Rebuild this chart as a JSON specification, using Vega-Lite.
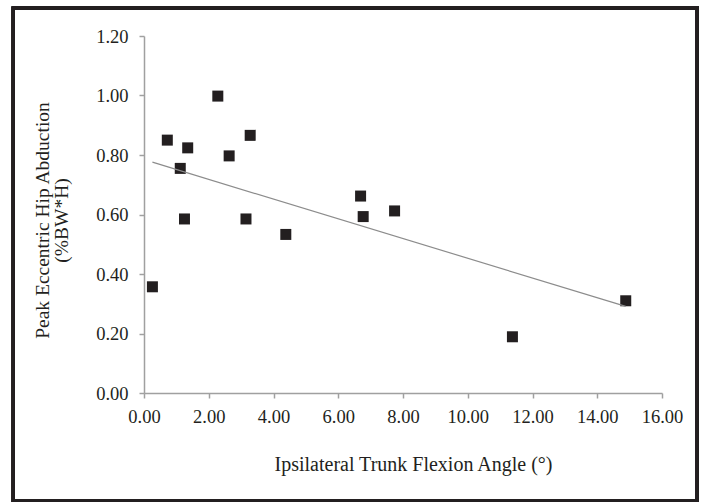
{
  "$schema": "https://vega.github.io/schema/vega-lite/v6.json",
  "width": 518,
  "height": 357,
  "autosize": {"type": "none"},
  "padding": {"left": 144, "top": 36, "right": 40, "bottom": 111},
  "background": "white",
  "config": {
    "view": {"stroke": null},
    "font": "Liberation Serif",
    "axis": {
      "labelFont": "Liberation Serif",
      "titleFont": "Liberation Serif",
      "labelFontSize": 18.5,
      "titleFontSize": 20,
      "titleFontWeight": "normal",
      "labelColor": "#231f20",
      "titleColor": "#231f20",
      "domainColor": "#a0a0a0",
      "domainWidth": 1.5,
      "tickColor": "#a0a0a0",
      "tickWidth": 1.5,
      "tickSize": 5,
      "labelFlush": false,
      "labelOverlap": false,
      "grid": false
    }
  },
  "data": {
    "values": [
      {"angle": 0.26, "abd": 0.357},
      {"angle": 0.72, "abd": 0.850},
      {"angle": 1.12, "abd": 0.755},
      {"angle": 1.25, "abd": 0.585},
      {"angle": 1.35, "abd": 0.824},
      {"angle": 2.28, "abd": 0.998},
      {"angle": 2.63, "abd": 0.797},
      {"angle": 3.15, "abd": 0.585},
      {"angle": 3.28, "abd": 0.866},
      {"angle": 4.38, "abd": 0.533},
      {"angle": 6.69, "abd": 0.662},
      {"angle": 6.77, "abd": 0.593},
      {"angle": 7.74, "abd": 0.612},
      {"angle": 11.38, "abd": 0.189},
      {"angle": 14.88, "abd": 0.310}
    ]
  },
  "layer": [
    {
      "mark": {"type": "rect", "filled": false, "stroke": "#231f20", "strokeWidth": 3, "clip": false},
      "encoding": {
        "x": {"datum": -4.037, "type": "quantitative"},
        "x2": {"datum": 17.09},
        "y": {"datum": 1.294, "type": "quantitative"},
        "y2": {"datum": -0.361}
      }
    },
    {
      "mark": {"type": "square", "filled": true, "size": 121, "color": "#231f20", "opacity": 1},
      "encoding": {
        "x": {
          "field": "angle", "type": "quantitative",
          "scale": {"domain": [0, 16], "nice": false, "zero": false},
          "axis": {
            "title": "Ipsilateral Trunk Flexion Angle (°)",
            "values": [0, 2, 4, 6, 8, 10, 12, 14, 16],
            "format": ".2f",
            "labelPadding": 9,
            "titlePadding": 29,
            "titleX": 269
          }
        },
        "y": {
          "field": "abd", "type": "quantitative",
          "scale": {"domain": [0, 1.2], "nice": false, "zero": false},
          "axis": {
            "title": ["Peak Eccentric Hip Abduction", "(%BW*H)"],
            "values": [0, 0.2, 0.4, 0.6, 0.8, 1.0, 1.2],
            "format": ".2f",
            "labelPadding": 11,
            "titlePadding": 24,
            "titleFontSize": 19.5,
            "titleLineHeight": 19.5,
            "titleY": 184
          }
        }
      }
    },
    {
      "transform": [{"regression": "abd", "on": "angle"}],
      "mark": {"type": "line", "color": "#8c8c8c", "strokeWidth": 1.2},
      "encoding": {
        "x": {"field": "angle", "type": "quantitative"},
        "y": {"field": "abd", "type": "quantitative"}
      }
    }
  ]
}
